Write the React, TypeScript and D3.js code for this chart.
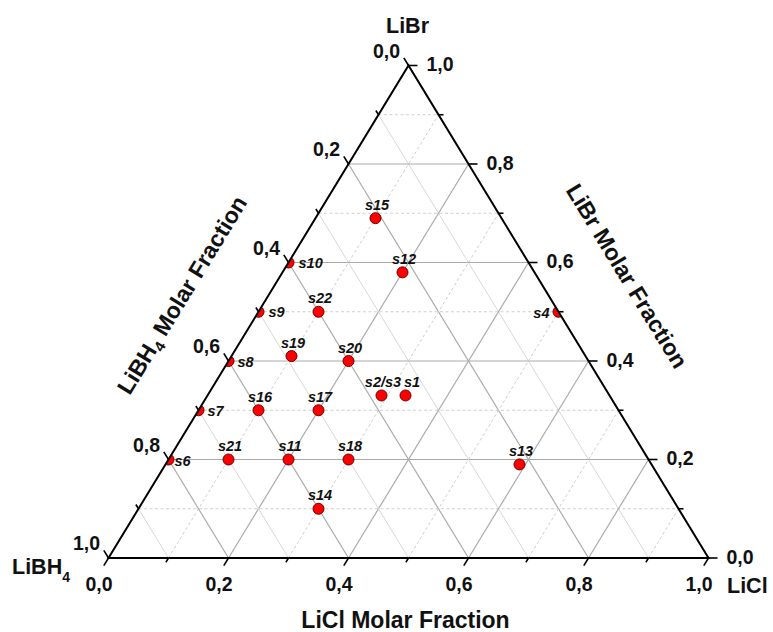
import React from "react";
import * as d3 from "d3";

// ---- data ----
const sampleNames = ["s1","s2/s3","s4","s6","s7","s8","s9","s10","s11","s12","s13","s14","s15","s16","s17","s18","s19","s20","s21","s22"];
const liclFraction = [0.33,0.29,0.5,0,0,0,0,0,0.2,0.2,0.59,0.3,0.1,0.1,0.2,0.3,0.1,0.2,0.1,0.1];
const librFraction = [0.33,0.33,0.5,0.2,0.3,0.4,0.5,0.6,0.2,0.58,0.19,0.1,0.69,0.3,0.3,0.2,0.41,0.4,0.2,0.5];
const tickValues = [0,0.1,0.2,0.3,0.4,0.5,0.6,0.7,0.8,0.9,1];
const majorTickLabels = ["0,0","0,2","0,4","0,6","0,8","1,0"];
const majorValues = [0,0.2,0.4,0.6,0.8,1];
const gridValues = [0.1,0.2,0.3,0.4,0.5,0.6,0.7,0.8,0.9];

// label placement (style, not data)
const labelPlacement: Record<string, { side: string; dx: number; dy: number }> = {
  "s1": { side: "top", dx: 6.5, dy: -8.5 },
  "s4": { side: "left", dx: -9, dy: 1.5 },
  "s6": { side: "right", dx: 6, dy: 1.5 },
  "s7": { side: "right", dx: 9, dy: 1 },
  "s8": { side: "right", dx: 9, dy: 1 },
  "s9": { side: "right", dx: 10, dy: 0.5 },
  "s10": { side: "right", dx: 10, dy: 0.5 },
};

const W = 773, H = 632;
const x0 = 108.5, x1 = 708.5, yBot = 558, yTop = 65.5;
const fontFam = "'Liberation Sans', Arial, sans-serif";

export default function App() {
  const xs = d3.scaleLinear().domain([0, 1]).range([x0, x1]);
  const ys = d3.scaleLinear().domain([0, 1]).range([yBot, yTop]);
  // a = LiCl, b = LiBr
  const P = (a: number, b: number): [number, number] => [xs(a + b / 2), ys(b)];
  const line = d3.line();

  const A = P(0, 0), B = P(1, 0), C = P(0, 1);
  const tri = `M${A[0]},${A[1]}L${B[0]},${B[1]}L${C[0]},${C[1]}Z`;

  // outward unit directions
  const dx = (x1 - x0) / 2, dy = yBot - yTop;
  const len = Math.hypot(dx, dy);
  const dirBottom: [number, number] = [-dx / len, dy / len];
  const dirLeft: [number, number] = [-dx / len, -dy / len];
  const dirRight: [number, number] = [1, 0];

  const isMajor = (v: number) => Math.abs(Math.round(v * 10) % 2) === 0;

  const gridEls: React.ReactNode[] = [];
  gridValues.forEach((v, i) => {
    const maj = isMajor(v);
    const h = line([P(0, v), P(1 - v, v)]) as string;
    const c = line([P(v, 0), P(v, 1 - v)]) as string;
    const bh = line([P(1 - v, 0), P(0, 1 - v)]) as string;
    if (maj) {
      [h, c, bh].forEach((d, k) =>
        gridEls.push(<path key={`gm${i}${k}`} d={d} stroke="#ababab" strokeWidth={1.2} fill="none" />)
      );
    } else {
      gridEls.push(<path key={`gh${i}`} d={h} stroke="#cfcfcf" strokeWidth={1} strokeDasharray="3,2.5" fill="none" />);
      gridEls.push(<path key={`gc${i}`} d={c} stroke="#cfcfcf" strokeWidth={1} strokeDasharray="3,2.5" fill="none" />);
      gridEls.push(<path key={`gb${i}`} d={bh} stroke="#d8d8d8" strokeWidth={1} fill="none" />);
    }
  });

  const tickEls: React.ReactNode[] = [];
  tickValues.forEach((v, i) => {
    const L = isMajor(v) ? 9 : 5;
    const pb = P(v, 0);
    tickEls.push(<path key={`tb${i}`} d={line([pb, [pb[0] + dirBottom[0] * L, pb[1] + dirBottom[1] * L]]) as string} stroke="#000" strokeWidth={1.6} />);
    const pl = P(0, 1 - v);
    tickEls.push(<path key={`tl${i}`} d={line([pl, [pl[0] + dirLeft[0] * L, pl[1] + dirLeft[1] * L]]) as string} stroke="#000" strokeWidth={1.6} />);
    const pr = P(1 - v, v);
    tickEls.push(<path key={`tr${i}`} d={line([pr, [pr[0] + dirRight[0] * L, pr[1]]]) as string} stroke="#000" strokeWidth={1.6} />);
  });

  const tickLabelStyle = { fontFamily: fontFam, fontWeight: 700, fontSize: 19.5, fill: "#111" } as React.CSSProperties;
  const labelEls: React.ReactNode[] = [];
  majorValues.forEach((v, i) => {
    const t = majorTickLabels[i];
    const pb = P(v, 0);
    labelEls.push(<text key={`lb${i}`} x={pb[0] - 9.5} y={pb[1] + 33} textAnchor="middle" style={tickLabelStyle}>{t}</text>);
    const pl = P(0, 1 - v);
    labelEls.push(<text key={`ll${i}`} x={pl[0] - 8.5} y={pl[1] - 15} textAnchor="end" dominantBaseline="central" style={tickLabelStyle}>{t}</text>);
    const pr = P(1 - v, v);
    labelEls.push(<text key={`lr${i}`} x={pr[0] + 18} y={pr[1] - 1.5} textAnchor="start" dominantBaseline="central" style={tickLabelStyle}>{t}</text>);
  });

  const vertexStyle = { fontFamily: fontFam, fontWeight: 700, fontSize: 21.5, fill: "#111" } as React.CSSProperties;
  const titleStyle = { fontFamily: fontFam, fontWeight: 700, fontSize: 23, fill: "#111" } as React.CSSProperties;
  const angle = (Math.atan2(dy, dx) * 180) / Math.PI;

  const ptLabelStyle = { fontFamily: fontFam, fontWeight: 700, fontStyle: "italic", fontSize: 14.5, fill: "#111" } as React.CSSProperties;

  return (
    <svg width={W} height={H} style={{ position: "absolute", left: 0, top: 0, background: "#fff" }}>
      <defs>
        <clipPath id="triClip">
          <path d={tri} />
        </clipPath>
      </defs>
      <rect x={0} y={0} width={W} height={H} fill="#fff" />
      <g>{gridEls}</g>
      <g clipPath="url(#triClip)">
        {sampleNames.map((n, i) => {
          const p = P(liclFraction[i], librFraction[i]);
          return <circle key={n} cx={p[0]} cy={p[1]} r={5.5} fill="#ff0000" stroke="#6b0000" strokeWidth={1} />;
        })}
      </g>
      <path d={tri} fill="none" stroke="#000" strokeWidth={2} strokeLinejoin="miter" />
      <g>{tickEls}</g>
      <g>{labelEls}</g>
      <g>
        {sampleNames.map((n, i) => {
          const p = P(liclFraction[i], librFraction[i]);
          const lp = labelPlacement[n] || { side: "top", dx: 1.5, dy: -8.5 };
          if (lp.side === "right")
            return <text key={`pl${n}`} x={p[0] + lp.dx} y={p[1] + lp.dy} dominantBaseline="central" style={ptLabelStyle}>{n}</text>;
          if (lp.side === "left")
            return <text key={`pl${n}`} x={p[0] + lp.dx} y={p[1] + lp.dy} textAnchor="end" dominantBaseline="central" style={ptLabelStyle}>{n}</text>;
          return <text key={`pl${n}`} x={p[0] + lp.dx} y={p[1] + lp.dy} textAnchor="middle" style={ptLabelStyle}>{n}</text>;
        })}
      </g>
      {/* vertex titles */}
      <text x={407.5} y={33} textAnchor="middle" style={vertexStyle}>LiBr</text>
      <text x={12} y={574} style={vertexStyle}>LiBH<tspan dy={8} fontSize={14}>4</tspan></text>
      <text x={727} y={592.5} style={vertexStyle}>LiCl</text>
      {/* axis titles */}
      <text x={405.5} y={628} textAnchor="middle" style={titleStyle}>LiCl Molar Fraction</text>
      <text transform={`translate(182,295) rotate(${-angle})`} textAnchor="middle" dominantBaseline="central" style={titleStyle}>
        LiBH<tspan dy={7} fontSize={15}>4</tspan><tspan dy={-7}> Molar Fraction</tspan>
      </text>
      <text transform={`translate(627,276) rotate(${angle})`} textAnchor="middle" dominantBaseline="central" style={titleStyle}>LiBr Molar Fraction</text>
    </svg>
  );
}
